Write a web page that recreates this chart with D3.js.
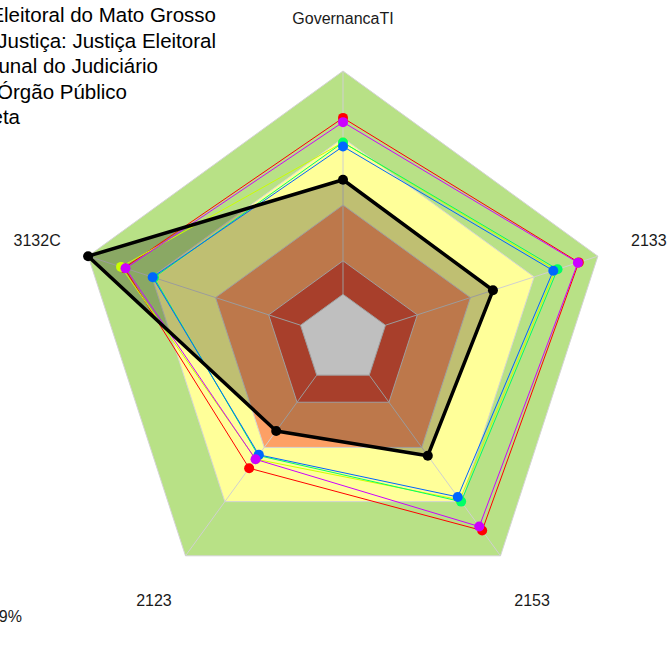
<!DOCTYPE html>
<html>
<head>
<meta charset="utf-8">
<script src="https://cdn.jsdelivr.net/npm/d3@7"></script>
<style>
  body { margin: 0; background: #fff; }
  svg  { display: block; font-family: "Liberation Sans", Arial, sans-serif; }
</style>
</head>
<body>
<div id="chart"></div>
<script>
/* axes, clockwise from the top */
const axisNames = ["GovernancaTI", "2133", "2153", "2123", "3132C"];

/* background bands (value limits) */
const bandBreaks  = [0, 0.15, 0.4, 0.7, 1];
const bandColours = ["#e0553a", "#fda065", "#ffff99", "#b8e186"];

/* series */
const seriesColours = ["#FF0000", "#CCFF00", "#00FF66", "#0066FF", "#CC00FF"];
const redValues     = [0.79, 0.91, 0.86, 0.515, 0.83];
const limeValues    = [0.68, 0.80, 0.69, 0.465, 0.845];
const greenValues   = [0.68, 0.81, 0.70, 0.445, 0.69];
const blueValues    = [0.662, 0.79, 0.674, 0.441, 0.696];
const purpleValues  = [0.771, 0.906, 0.838, 0.466, 0.824];
const metaValues    = [0.513, 0.506, 0.446, 0.309, 1.0];

/* legend lines (pushed off the left edge, as in the source) */
const legendLabels = [
  "Tribunal Regional Eleitoral do Mato Grosso",
  "Ramo de Justiça: Justiça Eleitoral",
  "Tribunal do Judiciário",
  "Tipo de Órgão Público",
  "Meta"
];
const legendRightEdges = [216, 216, 158, 127, 20];
const captionText = "Aderência: 59%";

const width = 669, height = 666;
const cx = 343, cy = 339, R = 268;

const svg = d3.select("#chart").append("svg")
  .attr("width", width)
  .attr("height", height);

const r = d3.scaleLinear([-0.2, 1], [0, R]);
const angle = d3.scalePoint(axisNames, [0, 2 * Math.PI * 4 / 5]);

const pt = (name, v) => {
  const a = angle(name) - Math.PI / 2;
  return [cx + r(v) * Math.cos(a), cy + r(v) * Math.sin(a)];
};
const ring = v => axisNames.map(n => pt(n, v));
const poly = d3.line().curve(d3.curveLinearClosed);

/* bands, outermost first */
const bands = bandColours.map((c, i) => ({ v: bandBreaks[i + 1], c })).reverse();
svg.append("g")
  .selectAll("path")
  .data(bands)
  .join("path")
    .attr("d", d => poly(ring(d.v)))
    .attr("fill", d => d.c)
    .attr("stroke", "#d4d4d4")
    .attr("stroke-width", 1);

/* hole */
svg.append("path")
  .attr("d", poly(ring(bandBreaks[0])))
  .attr("fill", "#fff")
  .attr("stroke", "#d4d4d4");

/* spokes */
svg.append("g")
  .selectAll("line")
  .data(axisNames)
  .join("line")
    .attr("x1", d => pt(d, 0)[0])
    .attr("y1", d => pt(d, 0)[1])
    .attr("x2", d => pt(d, 1)[0])
    .attr("y2", d => pt(d, 1)[1])
    .attr("stroke", "#d0d0d0")
    .attr("stroke-width", 1);

/* meta fill under the others */
const metaPts = axisNames.map((n, i) => pt(n, metaValues[i]));
svg.append("path")
  .attr("d", poly(metaPts))
  .attr("fill", "#000")
  .attr("fill-opacity", 0.25);

/* coloured series */
const series = [redValues, limeValues, greenValues, blueValues, purpleValues]
  .map((vals, i) => ({ colour: seriesColours[i], pts: axisNames.map((n, j) => pt(n, vals[j])) }));

const sg = svg.append("g")
  .selectAll("g")
  .data(series)
  .join("g");

sg.append("path")
  .attr("d", d => poly(d.pts))
  .attr("fill", "none")
  .attr("stroke", d => d.colour)
  .attr("stroke-width", 1);

sg.selectAll("circle")
  .data(d => d.pts.map(p => ({ p, colour: d.colour })))
  .join("circle")
    .attr("cx", d => d.p[0])
    .attr("cy", d => d.p[1])
    .attr("r", 5)
    .attr("fill", d => d.colour);

/* meta outline and points on top */
svg.append("path")
  .attr("d", poly(metaPts))
  .attr("fill", "none")
  .attr("stroke", "#000")
  .attr("stroke-width", 3.5)
  .attr("stroke-linejoin", "round");

svg.append("g")
  .selectAll("circle")
  .data(metaPts)
  .join("circle")
    .attr("cx", d => d[0])
    .attr("cy", d => d[1])
    .attr("r", 5)
    .attr("fill", "#000");

/* axis labels */
svg.append("g")
  .selectAll("text")
  .data(axisNames)
  .join("text")
    .attr("x", d => pt(d, 1.24)[0])
    .attr("y", d => pt(d, 1.24)[1])
    .attr("text-anchor", "middle")
    .attr("dy", "0.4em")
    .attr("font-size", 16)
    .attr("fill", "#1a1a1a")
    .text(d => d);

/* legend */
svg.append("g")
  .selectAll("text")
  .data(legendLabels)
  .join("text")
    .attr("x", (d, i) => legendRightEdges[i])
    .attr("y", (d, i) => 22 + i * 25.5)
    .attr("text-anchor", "end")
    .attr("font-size", 20.5)
    .attr("fill", "#000")
    .text(d => d);

svg.append("text")
  .attr("x", 22)
  .attr("y", 622)
  .attr("text-anchor", "end")
  .attr("font-size", 16)
  .attr("fill", "#1a1a1a")
  .text(captionText);
</script>
</body>
</html>
